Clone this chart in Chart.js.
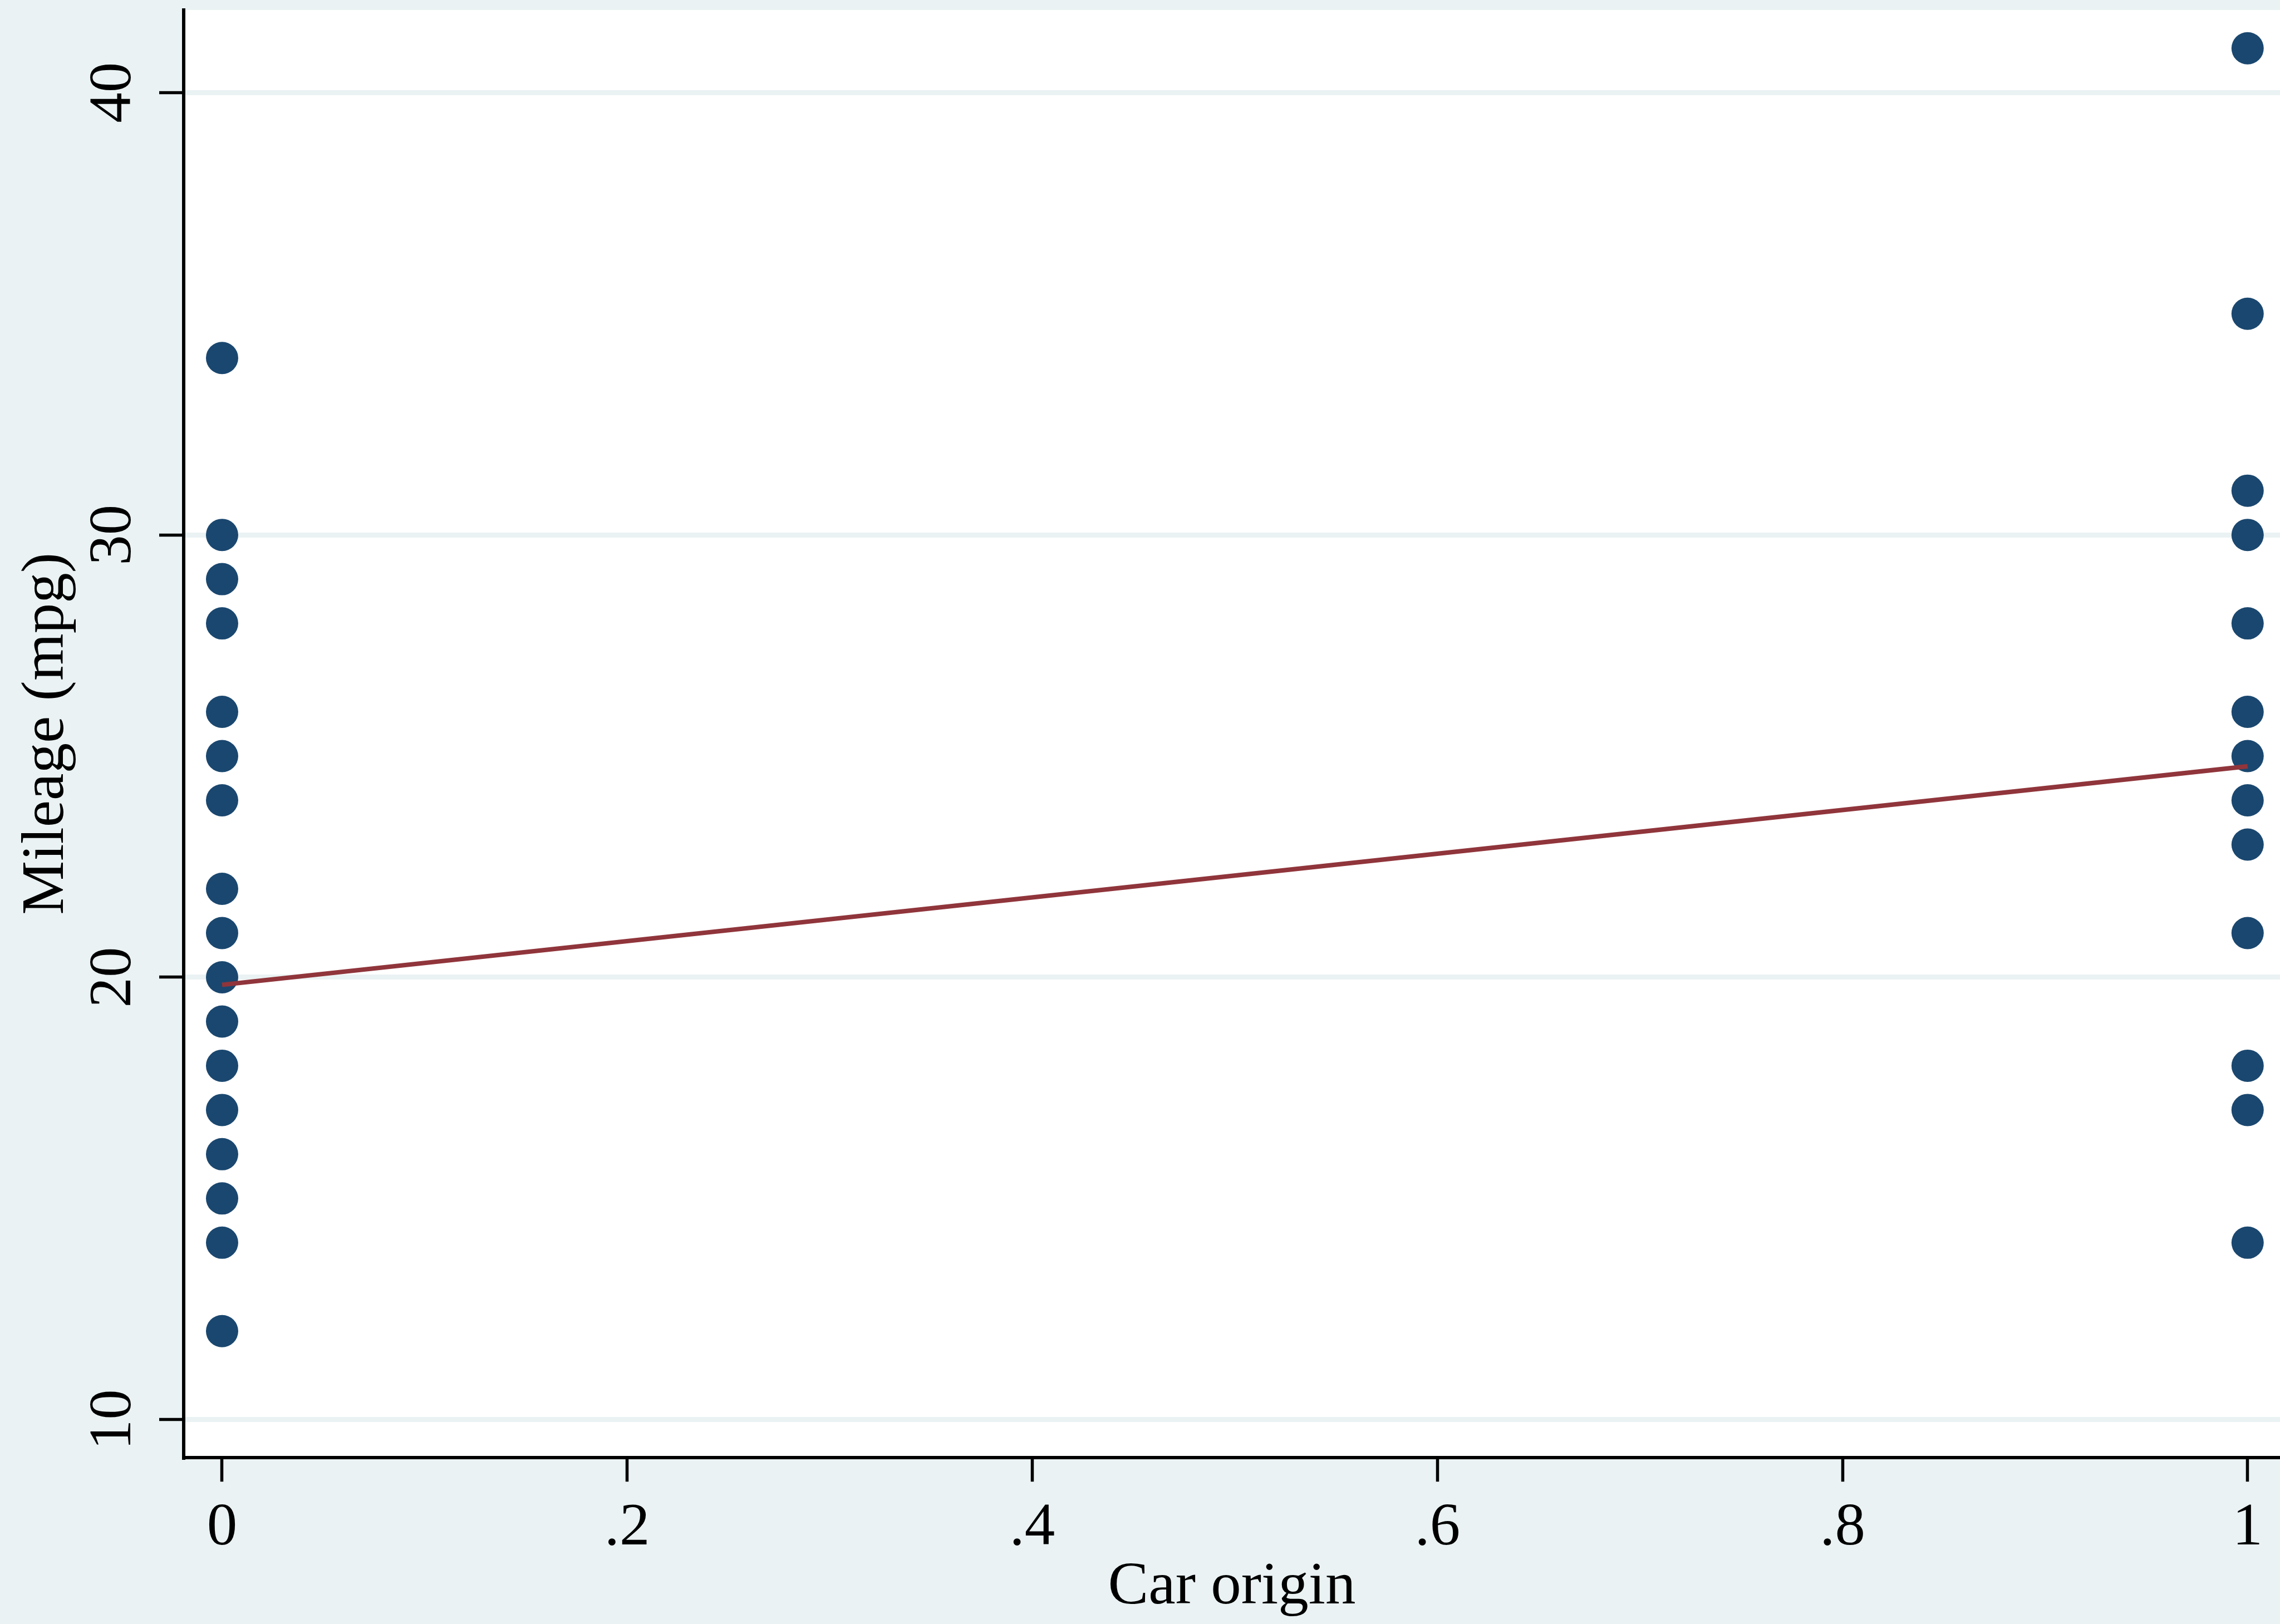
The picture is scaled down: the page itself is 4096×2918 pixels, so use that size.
<!DOCTYPE html>
<html>
<head>
<meta charset="utf-8">
<title>Mileage by car origin</title>
<script src="https://cdn.jsdelivr.net/npm/chart.js@4/dist/chart.umd.min.js"></script>
<style>
  html, body { margin: 0; padding: 0; background: #EAF2F3; }
  #wrap { width: 4096px; height: 2918px; }
  canvas { display: block; }
</style>
</head>
<body>
<div id="wrap"><canvas id="chart" width="4096" height="2918"></canvas></div>
<script>
// Mileage values observed for domestic (origin = 0) and foreign (origin = 1) cars
const domesticMpg = [12, 14, 15, 16, 17, 18, 19, 20, 21, 22, 24, 25, 26, 28, 29, 30, 34];
const foreignMpg = [14, 17, 18, 21, 23, 24, 25, 26, 28, 30, 31, 35, 41];

// Linear fit of mileage on origin
const fitOrigin = [0, 1];
const fitMpg = [19.83, 24.77];

// Axis ticks
const xTickValues = [0, 0.2, 0.4, 0.6, 0.8, 1];
const xTickLabels = ['0', '.2', '.4', '.6', '.8', '1'];
const yTickValues = [10, 20, 30, 40];

const BG = '#EAF2F3';
const MARKER = '#1A476F';
const FIT = '#90353B';
const FONT = "'Liberation Serif', 'Times New Roman', serif";
const FS = 109;

const scatterPoints = domesticMpg.map(v => ({ x: 0, y: v }))
  .concat(foreignMpg.map(v => ({ x: 1, y: v })));
const fitPoints = fitOrigin.map((x, i) => ({ x: x, y: fitMpg[i] }));

// Outer region tint and white plot region
const backdrop = {
  id: 'backdrop',
  beforeDraw(chart) {
    const { ctx, chartArea: a } = chart;
    ctx.save();
    ctx.fillStyle = BG;
    ctx.fillRect(0, 0, chart.width, chart.height);
    ctx.fillStyle = '#FFFFFF';
    ctx.fillRect(a.left, a.top, a.right - a.left, a.bottom - a.top);
    ctx.restore();
  }
};

new Chart(document.getElementById('chart'), {
  type: 'scatter',
  data: {
    datasets: [
      {
        type: 'line',
        label: 'Fitted values',
        data: fitPoints,
        borderColor: FIT,
        borderWidth: 8.2,
        borderCapStyle: 'butt',
        pointRadius: 0,
        pointHoverRadius: 0,
        fill: false,
        tension: 0,
        order: 0
      },
      {
        label: 'Mileage (mpg)',
        data: scatterPoints,
        pointRadius: 29,
        pointHoverRadius: 29,
        pointBackgroundColor: MARKER,
        pointBorderWidth: 0,
        backgroundColor: MARKER,
        borderColor: MARKER,
        order: 1
      }
    ]
  },
  options: {
    responsive: false,
    devicePixelRatio: 1,
    animation: false,
    events: [],
    layout: { autoPadding: false, padding: { top: 18, right: 0, bottom: 0, left: 0 } },
    plugins: {
      legend: { display: false },
      tooltip: { enabled: false }
    },
    scales: {
      x: {
        type: 'linear',
        position: 'bottom',
        min: -0.0189,
        max: 1.016,
        afterBuildTicks(scale) {
          scale.ticks = xTickValues.map(v => ({ value: v }));
        },
        afterFit(scale) {
          scale.height = 2918 - 2618.8;
          scale.paddingLeft = 0;
          scale.paddingRight = 0;
        },
        ticks: {
          autoSkip: false,
          maxRotation: 0,
          minRotation: 0,
          padding: 19,
          color: '#000',
          font: { family: FONT, size: FS, lineHeight: 1.2 },
          callback(value) {
            const i = xTickValues.findIndex(v => Math.abs(v - value) < 1e-9);
            return i >= 0 ? xTickLabels[i] : '';
          }
        },
        grid: {
          display: true,
          drawOnChartArea: false,
          drawTicks: true,
          tickLength: 43.4,
          tickWidth: 5.5,
          tickColor: '#000'
        },
        border: { display: true, color: '#000', width: 6 },
        title: {
          display: true,
          text: 'Car origin',
          color: '#000',
          font: { family: FONT, size: FS, lineHeight: 1.2 },
          padding: { top: 0, bottom: 0 }
        }
      },
      y: {
        type: 'linear',
        position: 'left',
        min: 9.144,
        max: 41.866,
        afterBuildTicks(scale) {
          scale.ticks = yTickValues.map(v => ({ value: v }));
        },
        afterFit(scale) {
          scale.width = 330.2;
          scale.paddingTop = 0;
          scale.paddingBottom = 0;
        },
        ticks: {
          autoSkip: false,
          minRotation: 90,
          maxRotation: 90,
          crossAlign: 'center',
          padding: 25.8,
          color: '#000',
          font: { family: FONT, size: FS, lineHeight: 1.2 },
          callback(value) { return String(value); }
        },
        grid: {
          display: true,
          drawOnChartArea: true,
          drawTicks: true,
          color: BG,
          lineWidth: 9,
          tickLength: 44.2,
          tickWidth: 5.5,
          tickColor: '#000'
        },
        border: { display: true, color: '#000', width: 6 },
        title: {
          display: true,
          text: 'Mileage (mpg)',
          color: '#000',
          font: { family: FONT, size: FS, lineHeight: 1.2 },
          padding: { top: 19.1, bottom: 0 }
        }
      }
    }
  },
  plugins: [backdrop]
});
</script>
</body>
</html>
